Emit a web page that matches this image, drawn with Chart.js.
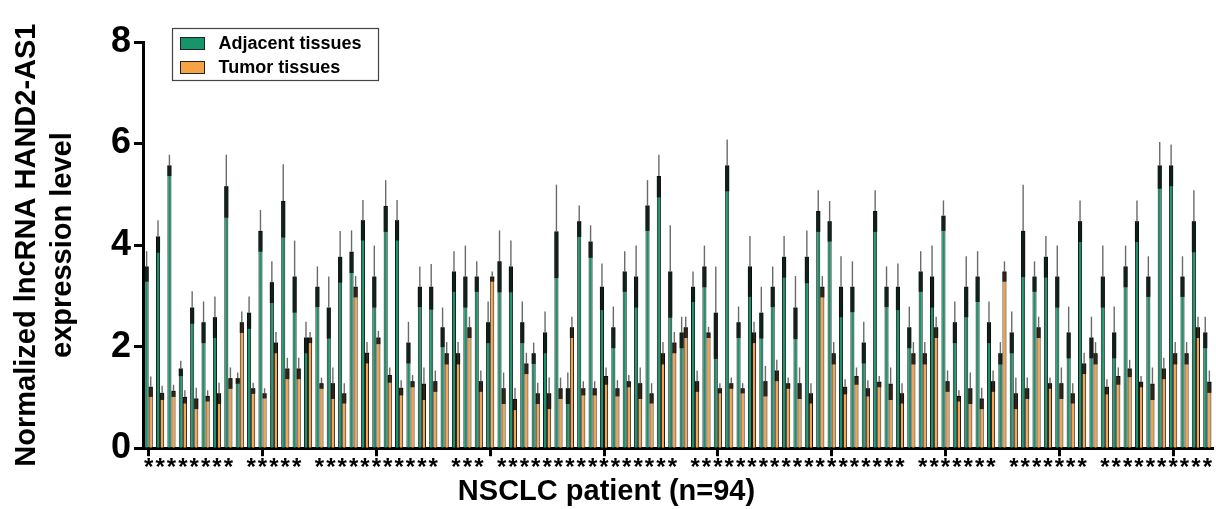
<!DOCTYPE html>
<html><head><meta charset="utf-8">
<script src="https://cdn.jsdelivr.net/npm/chart.js@4.4.1/dist/chart.umd.min.js"></script>
<style>html,body{margin:0;padding:0;background:#fff}</style>
</head><body>
<canvas id="c" width="1216" height="509" style="display:block;width:1216px;height:509px"></canvas>
<script>
// ---- data ----
const patients = [1,2,3,4,5,6,7,8,9,10,11,12,13,14,15,16,17,18,19,20,21,22,23,24,25,26,27,28,29,30,31,32,33,34,35,36,37,38,39,40,41,42,43,44,45,46,47,48,49,50,51,52,53,54,55,56,57,58,59,60,61,62,63,64,65,66,67,68,69,70,71,72,73,74,75,76,77,78,79,80,81,82,83,84,85,86,87,88,89,90,91,92,93,94];
const adjacent = [3.58,4.17,5.57,1.57,2.77,2.48,2.58,5.16,1.38,2.67,4.28,3.27,4.87,3.38,2.18,3.18,2.77,3.77,3.87,4.49,3.38,4.77,4.49,2.08,3.18,3.18,2.38,3.48,3.38,3.38,2.48,3.68,3.58,2.48,1.87,2.28,4.27,1.18,4.47,4.07,3.18,2.38,3.48,3.38,4.78,5.36,3.48,2.28,3.18,3.58,2.67,5.57,2.48,3.58,2.67,3.18,3.77,2.77,3.77,4.67,4.47,3.18,3.18,2.08,4.67,3.18,3.18,2.38,3.48,3.38,4.58,2.48,3.18,3.38,2.48,1.87,2.28,4.28,3.38,3.77,3.38,2.28,4.47,2.18,3.38,2.28,3.58,4.47,3.38,5.57,5.57,3.38,4.47,2.28];
const adjacentErr = [0.30,0.32,0.21,0.15,0.32,0.41,0.41,0.62,0.11,0.32,0.41,0.41,0.72,0.71,0.31,0.40,0.61,0.51,0.42,0.40,0.61,0.51,0.40,0.41,0.40,0.45,0.39,0.40,0.61,0.30,0.41,0.61,0.51,0.41,0.21,0.41,0.92,0.31,0.31,0.32,0.46,0.41,0.40,0.61,0.50,0.42,0.91,0.31,0.30,0.41,0.91,0.51,0.31,0.60,0.51,0.40,0.41,0.62,0.52,0.41,0.40,0.60,0.50,0.41,0.41,0.40,0.46,0.41,0.40,0.61,0.30,0.41,0.60,0.50,0.41,0.22,0.41,0.91,0.30,0.41,0.61,0.51,0.41,0.41,0.61,0.51,0.41,0.41,0.40,0.46,0.41,0.40,0.61,0.31];
const tumor = [1.21,1.09,1.13,1.01,0.98,1.03,1.08,1.38,2.48,1.18,1.08,2.08,1.57,1.57,2.18,1.28,1.28,1.08,3.18,1.88,2.18,1.44,1.19,1.32,1.27,1.32,1.87,1.87,2.38,1.32,3.38,1.18,0.97,1.67,1.08,1.08,1.18,2.38,1.18,1.18,1.42,1.18,1.32,1.28,1.08,1.87,2.08,2.38,1.32,2.28,1.18,1.28,1.18,2.28,1.32,1.53,1.28,1.28,1.08,3.18,1.87,1.21,1.42,1.18,1.31,1.27,1.08,1.87,1.87,2.38,1.32,1.03,1.18,0.98,1.32,3.48,1.08,1.18,2.38,1.28,1.28,1.08,1.67,1.87,1.21,1.42,1.57,1.31,1.27,1.57,1.87,1.87,2.38,1.31];
const tumorErr = [0.20,0.14,0.12,0.13,0.21,0.11,0.21,0.21,0.21,0.11,0.10,0.21,0.21,0.21,0.11,0.11,0.31,0.20,0.21,0.21,0.13,0.15,0.15,0.12,0.32,0.21,0.22,0.22,0.21,0.21,0.10,0.31,0.22,0.21,0.21,0.31,0.21,0.21,0.14,0.14,0.17,0.16,0.12,0.31,0.20,0.22,0.21,0.21,0.21,0.11,0.10,0.11,0.10,0.21,0.30,0.21,0.11,0.31,0.20,0.21,0.22,0.15,0.17,0.16,0.11,0.32,0.20,0.22,0.22,0.21,0.21,0.11,0.31,0.21,0.21,0.20,0.31,0.21,0.21,0.11,0.31,0.20,0.21,0.22,0.15,0.17,0.17,0.11,0.32,0.21,0.22,0.22,0.21,0.22];
// patients without a significance mark
const notSignificant = [9,15,27,31,48,68,76,84];
const sigMarks = patients.map(p => notSignificant.includes(p) ? '' : '*');
const yTicks = [0,2,4,6,8];
const seriesNames = ['Adjacent tissues','Tumor tissues'];

const FONT = "'Liberation Sans', Arial, Helvetica, sans-serif";
const GREEN = '#18946a';
const ORANGE = '#f7a345';

const errorBars = {
  id: 'errorBars',
  afterDatasetsDraw(chart) {
    const ctx = chart.ctx, ys = chart.scales.y;
    const errs = [adjacentErr, tumorErr];
    ctx.save();
    chart.data.datasets.forEach((ds, di) => {
      const meta = chart.getDatasetMeta(di);
      meta.data.forEach((bar, i) => {
        const v = ds.data[i], e = errs[di][i];
        const yv = ys.getPixelForValue(v);
        const yLo = ys.getPixelForValue(Math.max(0, v - e));
        const yHi = ys.getPixelForValue(v + e);
        const w = bar.width;
        ctx.fillStyle = 'rgba(8,8,8,0.82)';
        ctx.fillRect(bar.x - w / 2, yv, w, yLo - yv);
        ctx.strokeStyle = '#6a6a6a';
        ctx.lineWidth = 1.4;
        ctx.beginPath();
        ctx.moveTo(bar.x, yv);
        ctx.lineTo(bar.x, yHi);
        ctx.stroke();
      });
    });
    ctx.restore();
  }
};

const boxLegend = {
  id: 'boxLegend',
  afterDraw(chart) {
    const ctx = chart.ctx, ca = chart.chartArea;
    const x0 = ca.left + 29.5, y0 = ca.top - 13.5, w = 206, h = 52;
    ctx.save();
    ctx.strokeStyle = '#444';
    ctx.lineWidth = 1.2;
    ctx.strokeRect(x0, y0, w, h);
    chart.data.datasets.forEach((ds, i) => {
      const cy = y0 + 15 + i * 24;
      ctx.fillStyle = ds.backgroundColor;
      ctx.fillRect(x0 + 8, cy - 6, 24, 12);
      ctx.strokeStyle = '#222';
      ctx.lineWidth = 1;
      ctx.strokeRect(x0 + 8, cy - 6, 24, 12);
      ctx.fillStyle = '#000';
      ctx.font = 'bold 18px ' + FONT;
      ctx.textBaseline = 'middle';
      ctx.fillText(ds.label, x0 + 46, cy + 1);
    });
    ctx.restore();
  }
};

new Chart(document.getElementById('c'), {
  type: 'bar',
  data: {
    labels: patients,
    datasets: [
      { label: seriesNames[0], data: adjacent, backgroundColor: GREEN, borderColor: '#1b1b1b', borderWidth: 1, categoryPercentage: 0.72, barPercentage: 1.0 },
      { label: seriesNames[1], data: tumor, backgroundColor: ORANGE, borderColor: '#1b1b1b', borderWidth: 1, categoryPercentage: 0.72, barPercentage: 1.0 }
    ]
  },
  plugins: [errorBars, boxLegend],
  options: {
    responsive: false,
    animation: false,
    devicePixelRatio: 1,
    layout: { padding: { top: 42, right: 3, left: 0, bottom: 0 } },
    plugins: {
      legend: { display: false },
      tooltip: { enabled: false },
      title: {
        display: true, position: 'bottom', text: 'NSCLC patient (n=94)', color: '#000',
        font: { family: FONT, size: 29, weight: 'bold' }, padding: { top: 5, bottom: 0 }
      }
    },
    scales: {
      x: {
        offset: true,
        grid: {
          display: true, drawOnChartArea: false, offset: false, drawTicks: true,
          tickLength: 8, tickWidth: 3,
          tickColor: (c) => (c.index % 10 === 0 ? '#000' : 'rgba(0,0,0,0)')
        },
        border: { display: true, color: '#000', width: 3 },
        ticks: {
          autoSkip: false, maxRotation: 0, minRotation: 0, padding: -2, color: '#000',
          font: { family: FONT, size: 24, weight: 'bold' },
          callback: (v, i) => sigMarks[i]
        },
        afterFit: (s) => { s.height = 21; }
      },
      y: {
        min: 0, max: 8,
        afterBuildTicks: (s) => { s.ticks = yTicks.map(v => ({ value: v })); },
        ticks: { color: '#000', font: { family: FONT, size: 36, weight: 'bold' }, padding: 3 },
        grid: { drawOnChartArea: false, tickLength: 9, tickWidth: 3, tickColor: '#000' },
        border: { color: '#000', width: 3 },
        title: {
          display: true, text: ['Normalized lncRNA HAND2-AS1', 'expression level'], color: '#000',
          font: { family: FONT, size: 29, weight: 'bold', lineHeight: 1.25 }, padding: { top: 9, bottom: 6 }
        },
        afterFit: (s) => { s.width = 143; }
      }
    }
  }
});
</script>
</body></html>
